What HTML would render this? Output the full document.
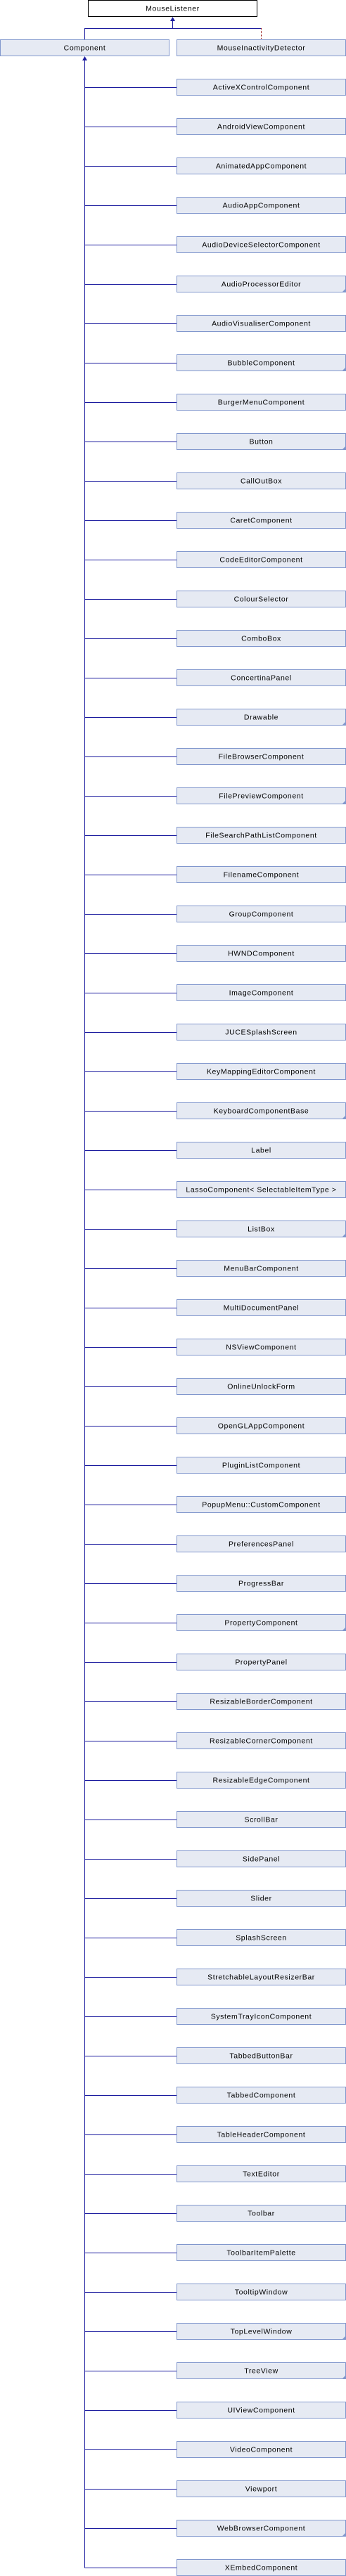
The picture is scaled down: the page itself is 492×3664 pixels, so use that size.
<!DOCTYPE html>
<html><head><meta charset="utf-8"><style>
html,body{margin:0;padding:0;background:#fff;}
svg{display:block;}
text{font-family:"Liberation Sans",Arial,sans-serif;font-size:10.5px;letter-spacing:0.6px;fill:#000;text-anchor:middle;}
</style></head><body>
<svg width="492" height="3664" viewBox="0 0 492 3664" xmlns="http://www.w3.org/2000/svg">
<rect x="125.5" y="0.5" width="240" height="23" fill="#fff" stroke="#000"/>
<text x="245.5" y="15.5">MouseListener</text>
<polyline points="120.5,56 120.5,40.5 245.5,40.5 245.5,28" fill="none" stroke="#1a1a9e"/>
<polygon points="245.5,24 242,30 249,30" fill="#1a1a9e"/>
<line x1="245.5" y1="40.5" x2="371" y2="40.5" stroke="#1a1a9e"/>
<line x1="371.5" y1="40" x2="371.5" y2="56" stroke="#8b0000" stroke-dasharray="1,1"/>
<rect x="0.5" y="56.5" width="240" height="23" fill="#e6eaf3" stroke="#8197cd"/>
<text x="120.5" y="71.5">Component</text>
<rect x="251.5" y="56.5" width="240" height="23" fill="#e6eaf3" stroke="#8197cd"/>
<text x="371.5" y="71.5">MouseInactivityDetector</text>
<polygon points="120.5,80 117,86 124,86" fill="#1a1a9e"/>
<line x1="120.5" y1="86" x2="120.5" y2="3652.5" stroke="#1a1a9e"/>
<g id="kids"></g>
</svg>
<script>
var names=["ActiveXControlComponent","AndroidViewComponent","AnimatedAppComponent","AudioAppComponent","AudioDeviceSelectorComponent","AudioProcessorEditor*","AudioVisualiserComponent","BubbleComponent*","BurgerMenuComponent","Button*","CallOutBox","CaretComponent","CodeEditorComponent","ColourSelector","ComboBox","ConcertinaPanel","Drawable*","FileBrowserComponent","FilePreviewComponent*","FileSearchPathListComponent","FilenameComponent","GroupComponent","HWNDComponent","ImageComponent","JUCESplashScreen","KeyMappingEditorComponent","KeyboardComponentBase*","Label","LassoComponent< SelectableItemType >","ListBox*","MenuBarComponent","MultiDocumentPanel","NSViewComponent","OnlineUnlockForm","OpenGLAppComponent","PluginListComponent","PopupMenu::CustomComponent","PreferencesPanel","ProgressBar","PropertyComponent*","PropertyPanel","ResizableBorderComponent","ResizableCornerComponent","ResizableEdgeComponent","ScrollBar","SidePanel","Slider","SplashScreen","StretchableLayoutResizerBar","SystemTrayIconComponent","TabbedButtonBar","TabbedComponent","TableHeaderComponent","TextEditor","Toolbar","ToolbarItemPalette","TooltipWindow","TopLevelWindow*","TreeView*","UIViewComponent","VideoComponent","Viewport","WebBrowserComponent*","XEmbedComponent"];
var NS="http://www.w3.org/2000/svg",g=document.getElementById("kids");
function el(t,a,txt){var e=document.createElementNS(NS,t);for(var k in a)e.setAttribute(k,a[k]);if(txt)e.textContent=txt;g.appendChild(e);}
names.forEach(function(n,i){
 var y=112+56*i,tri=n.slice(-1)=="*";if(tri)n=n.slice(0,-1);
 el("line",{x1:120.5,y1:y+12.5,x2:251,y2:y+12.5,stroke:"#1a1a9e"});
 el("rect",{x:251.5,y:y+0.5,width:240,height:23,fill:"#e6eaf3",stroke:"#8197cd"});
 if(tri)el("polygon",{points:"491,"+(y+19)+" 491,"+(y+23)+" 487,"+(y+23),fill:"#8197cd"});
 el("text",{x:371.5,y:y+15.5},n);
});
</script>
</body></html>
